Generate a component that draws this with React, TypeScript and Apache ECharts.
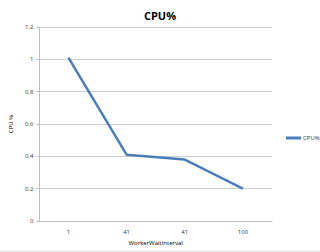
import React, { useEffect, useRef } from "react";
import * as echarts from "echarts";

const categories = ["1", "41", "41", "100"];
const cpuValues = [1.01, 0.41, 0.38, 0.2];
const seriesName = "CPU%";

export default function App() {
  const ref = useRef<HTMLDivElement>(null);
  useEffect(() => {
    const chart = echarts.init(ref.current!, null, { renderer: "svg" });
    chart.setOption({
      animation: false,
      backgroundColor: "#fff",
      textStyle: { fontFamily: "Open Sans, Liberation Sans, sans-serif" },
      title: {
        text: "CPU%",
        left: "center",
        top: 5,
        textStyle: { fontSize: 11, fontWeight: "bold", color: "#000" },
      },
      legend: {
        data: [seriesName],
        left: 281,
        top: 130,
        itemWidth: 15,
        itemHeight: 3,
        itemGap: 2,
        icon: "rect",
        textStyle: { fontSize: 6, color: "#333", padding: [0, 0, 0, -3] },
      },
      grid: { left: 30, right: 48, top: 27, bottom: 31, containLabel: false },
      xAxis: {
        type: "category",
        data: categories,
        boundaryGap: true,
        name: "WorkerWaitInterval",
        nameLocation: "middle",
        nameGap: 17,
        nameTextStyle: { fontSize: 6, color: "#000" },
        axisLine: { lineStyle: { color: "#bfbfbf" } },
        axisTick: { show: false },
        axisLabel: { fontSize: 6, color: "#333", margin: 8 },
      },
      yAxis: {
        type: "value",
        min: 0,
        max: 1.2,
        interval: 0.2,
        name: "CPU %",
        nameLocation: "middle",
        nameGap: 16,
        nameRotate: 90,
        nameTextStyle: { fontSize: 6, color: "#000" },
        axisLine: { show: true, lineStyle: { color: "#bfbfbf" } },
        axisTick: { show: true, length: 3, lineStyle: { color: "#bfbfbf" } },
        axisLabel: {
          fontSize: 6,
          color: "#333",
          margin: 6,
          formatter: (v: number) => String(Math.round(v * 10) / 10),
        },
        splitLine: { lineStyle: { color: "#d0d0d0", width: 1 } },
      },
      series: [
        {
          name: seriesName,
          type: "line",
          data: cpuValues,
          symbol: "none",
          lineStyle: { color: "#4a7ebb", width: 2.5 },
          itemStyle: { color: "#4a7ebb" },
        },
      ],
      graphic: [
        {
          type: "line",
          shape: { x1: 0, y1: 251, x2: 320, y2: 251 },
          style: { stroke: "#d9d9d9", lineWidth: 1 },
        },
      ],
    });
    return () => chart.dispose();
  }, []);
  return <div ref={ref} style={{ width: 320, height: 252, position: "absolute", left: 0, top: 0 }} />;
}
